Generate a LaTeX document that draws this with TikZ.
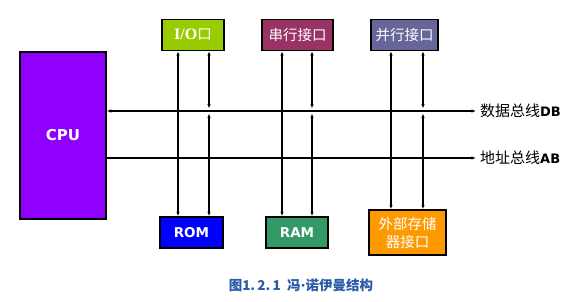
\documentclass[tikz,border=0pt]{standalone}
\usepackage{fontspec}
\setmainfont{DejaVu Sans}
\newfontfamily\cjk{Noto Sans CJK SC}
\newfontfamily\timesbold{Liberation Serif}
\usetikzlibrary{arrows.meta, positioning}
\definecolor{cpupurple}{HTML}{8F00FF}
\definecolor{iogreen}{HTML}{99CC00}
\definecolor{serialred}{HTML}{993366}
\definecolor{parblue}{HTML}{666699}
\definecolor{romblue}{HTML}{0000FF}
\definecolor{ramgreen}{HTML}{339966}
\definecolor{extorange}{HTML}{FF9900}
\definecolor{capblue}{HTML}{2A5AA8}

\tikzset{
  unit/.style={draw=black, line width=1.5pt, inner sep=0pt, minimum height=31pt,
    text=white, font=\cjk\fontsize{14.5}{17}\selectfont, align=center},
  latinunit/.style={unit, font=\bfseries\fontsize{13.5}{16}\selectfont},
  bus/.style={line width=2pt},
  wire/.style={line width=1.2pt},
  buslabel/.style={anchor=west, inner sep=0pt, font=\cjk\fontsize{15}{17}\selectfont}
}

\begin{document}
\begin{tikzpicture}[x=1pt, y=-1pt, >={Latex[length=4.5pt,width=3.5pt]}]

  %% canvas
  \fill[white] (0,0) rectangle (575,302);
  \useasboundingbox (0,0) rectangle (575,302);

  %% processor
  \node[latinunit, fill=cpupurple, minimum width=86pt, minimum height=167pt,
    font=\bfseries\fontsize{15}{18}\selectfont] (cpu) at (63,135.5) {CPU};

  %% devices above the buses
  \node[unit, fill=iogreen, minimum width=62pt] (io) at (193,35)
    {{\timesbold\bfseries\fontsize{16}{18}\selectfont I/O}口};
  \node[unit, fill=serialred, minimum width=71pt] (serial) at (297.5,35) {串行接口};
  \node[unit, fill=parblue, minimum width=67pt] (parallel) at (404.5,35) {并行接口};

  %% devices below the buses
  \node[latinunit, fill=romblue, minimum width=63pt] (rom) at (191.5,232.5) {ROM};
  \node[latinunit, fill=ramgreen, minimum width=62pt] (ram) at (297,232.5) {RAM};
  \node[unit, fill=extorange, minimum width=77pt, minimum height=45pt,
    font=\cjk\fontsize{14.5}{18}\selectfont] (extmem) at (407.5,232.5) {外部存储\\器接口};

  %% data bus and address bus
  \coordinate (dbend) at (476,111);
  \coordinate (abend) at (476,158);
  \draw[bus, <->] (cpu.east |- dbend) -- (dbend);
  \draw[bus, ->] (cpu.east |- abend) -- (abend);
  \node[buslabel, right=4pt of dbend] (dblabel) {数据总线{\fontspec{DejaVu Sans}\bfseries\fontsize{13}{15}\selectfont DB}};
  \node[buslabel, right=4pt of abend] (ablabel) {地址总线{\fontspec{DejaVu Sans}\bfseries\fontsize{13}{15}\selectfont AB}};

  %% taps: address line on the left, data line on the right of each pair
  \foreach \up/\down/\xa/\xd in {io/rom/178/209, serial/ram/282/312, parallel/extmem/391/423}{
    \coordinate (\up-a) at (\xa,158);
    \coordinate (\up-d1) at (\xd,108.5);
    \coordinate (\up-d2) at (\xd,113.5);
    \draw[wire, ->] (\up-a) -- (\up-a |- \up.south);
    \draw[wire, ->] (\up-a) -- (\up-a |- \down.north);
    \fill (\up-a) circle (1.4pt);
    \draw[wire, <->] (\up-d1) -- (\up-d1 |- \up.south);
    \draw[wire, <->] (\up-d2) -- (\up-d2 |- \down.north);
  }

  %% caption
  \node[font=\cjk\bfseries\fontsize{13.5}{15}\selectfont, text=capblue] (caption) at (301,285)
    {图1.\,2.\,1\ \ 冯{\fontspec{DejaVu Sans}·}诺伊曼结构};

\end{tikzpicture}
\end{document}
